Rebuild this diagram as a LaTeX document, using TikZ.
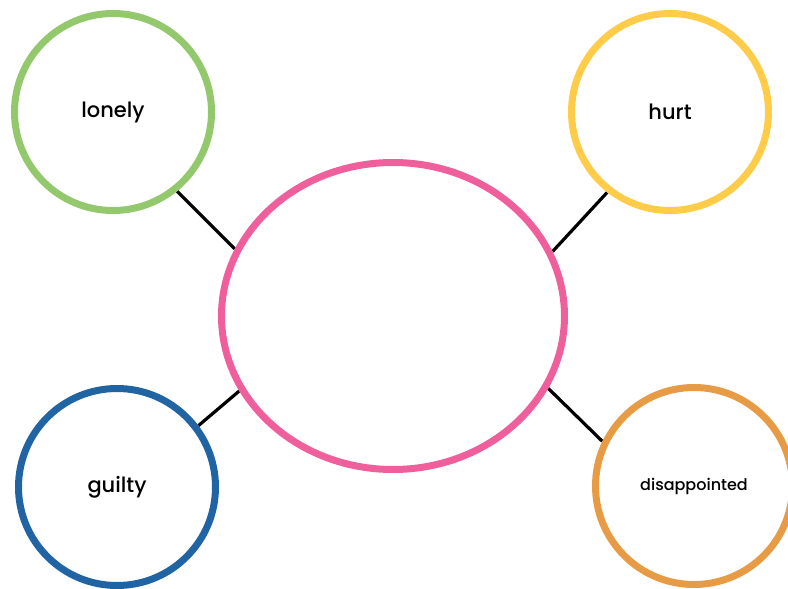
\documentclass[tikz,border=0pt]{standalone}
\usepackage{fontspec}
\setmainfont{Poppins}[UprightFont=* Medium]
\usepackage{tikz}
\usetikzlibrary{shapes.geometric,backgrounds}
\definecolor{feelgreen}{HTML}{93C96C}
\definecolor{feelyellow}{HTML}{FFCC4A}
\definecolor{feelblue}{HTML}{2064A4}
\definecolor{feelorange}{HTML}{E89B45}
\definecolor{feelpink}{HTML}{EF5F9B}

\begin{document}
\begin{tikzpicture}[
  x=1pt,y=-1pt,
  feeling/.style={circle,draw,line width=7pt,minimum size=197pt,inner sep=0pt,
    font=\fontsize{21}{24}\selectfont},
  center/.style={ellipse,draw=feelpink,line width=7pt,minimum width=343pt,
    minimum height=307pt,inner sep=0pt},
  link/.style={line width=3.2pt,draw=black}
]
  \useasboundingbox (0,0) rectangle (788,589);
  \clip (0,0) rectangle (788,589);
  \node[center] (main) at (393,316) {};
  \node[feeling,draw=feelgreen] (lonely) at (113,112) {lonely};
  \node[feeling,draw=feelyellow] (hurt) at (670,112) {hurt};
  \node[feeling,draw=feelblue] (guilty) at (117,487) {guilty};
  \node[feeling,draw=feelorange,font=\fontsize{16}{19}\selectfont] (disap) at (694,486)
    {disappointed};
  \begin{scope}[on background layer]
    \draw[link] (lonely.-51.4) -- (main.157.6);
    \draw[link] (hurt.-128.7) -- (main.22.6);
    \draw[link] (guilty.37) -- (main.-154.2);
    \draw[link] (disap.154) -- (main.-25.4);
  \end{scope}
\end{tikzpicture}
\end{document}
